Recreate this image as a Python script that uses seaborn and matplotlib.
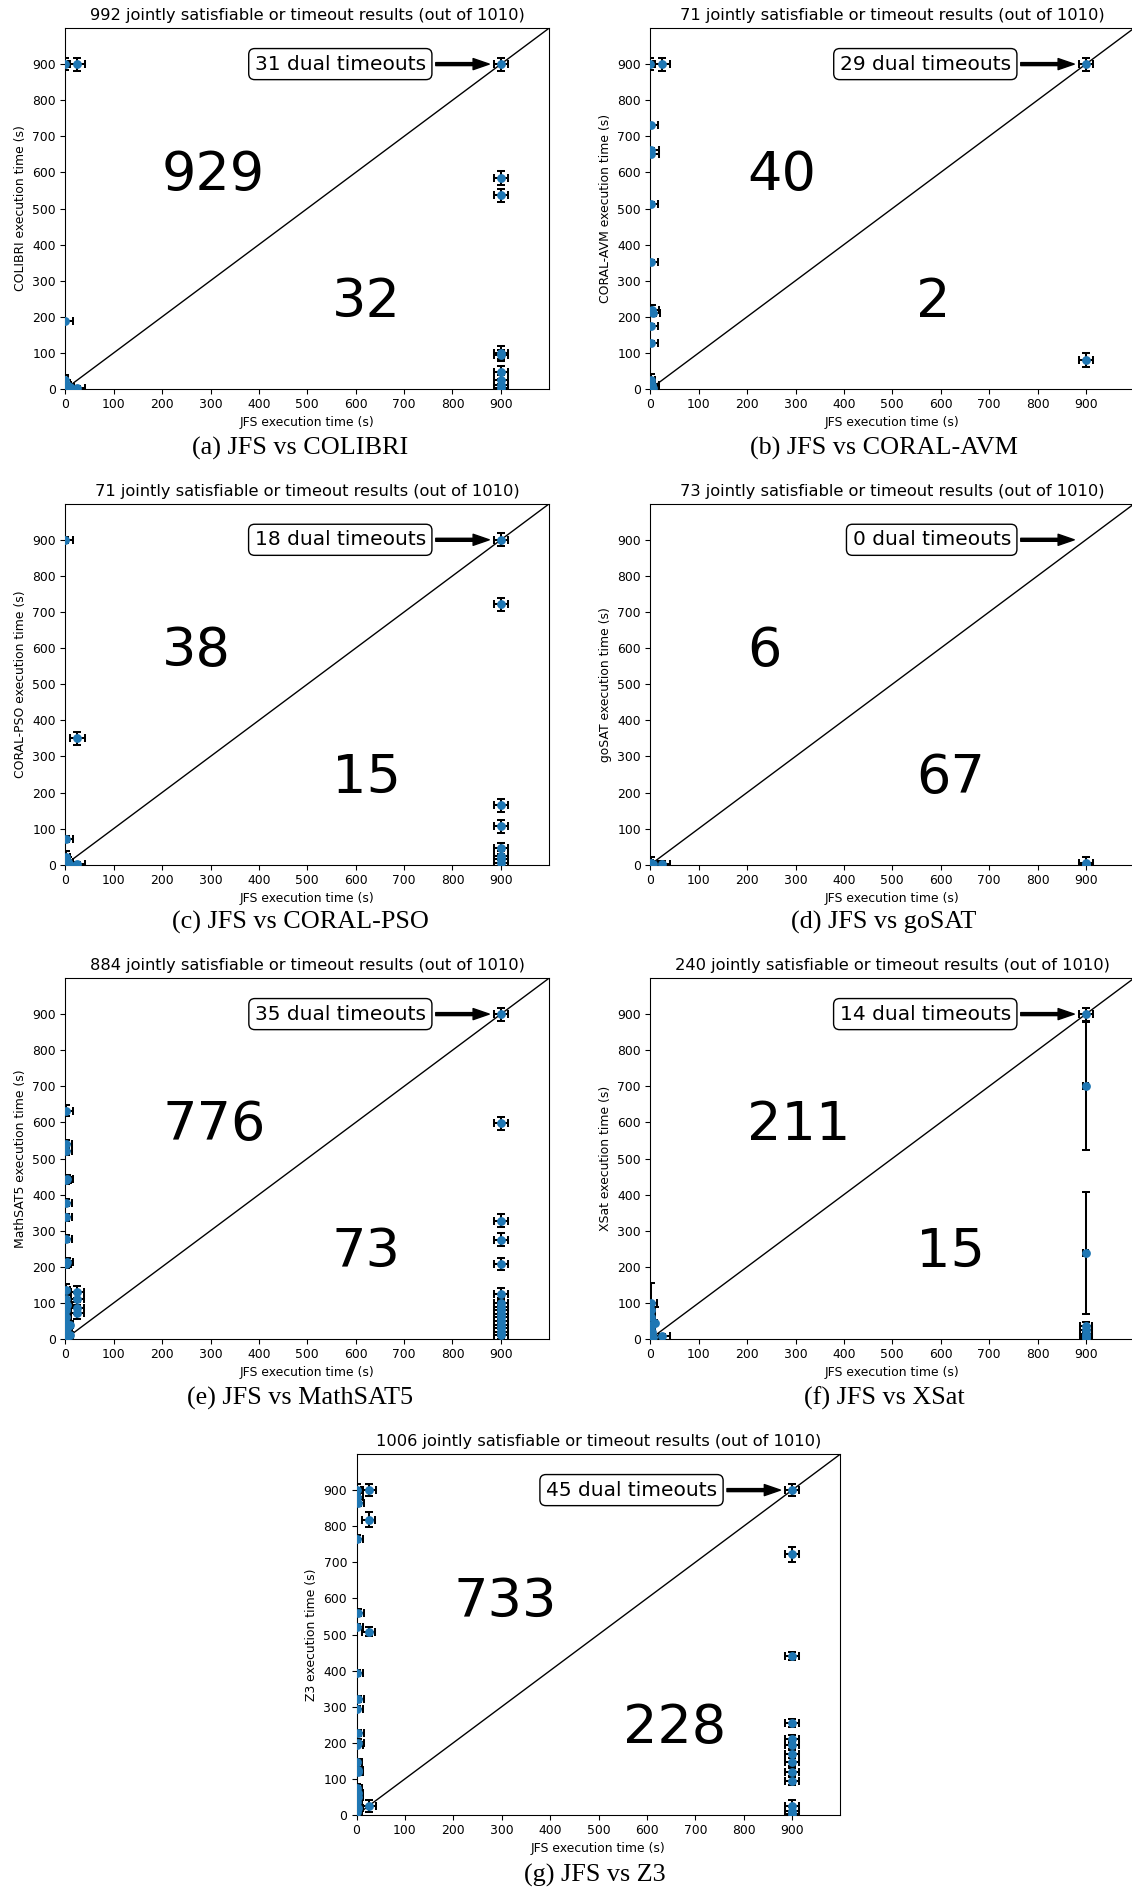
import matplotlib
matplotlib.use("Agg")
import matplotlib.pyplot as plt
import seaborn as sns
import numpy as np

# ---------------- data ----------------
TOTAL = 1010
solvers = ["COLIBRI", "CORAL-AVM", "CORAL-PSO", "goSAT", "MathSAT5", "XSat", "Z3"]
letters = ["a", "b", "c", "d", "e", "f", "g"]
jointly = [992, 71, 71, 73, 884, 240, 1006]
dual_timeouts = [31, 29, 18, 0, 35, 14, 45]
upper_counts = [929, 40, 38, 6, 776, 211, 733]
lower_counts = [32, 2, 15, 67, 73, 15, 228]
tick_values = [0, 100, 200, 300, 400, 500, 600, 700, 800, 900]

colibri_jfs = [0, 25, 0, 0, 4, 10, 25, 2, 900, 900, 900, 900, 900, 900, 900, 900, 900]
colibri_time = [900, 900, 187, 25, 12, 5, 3, 0, 900, 585, 537, 100, 93, 47, 25, 12, 3]
colibri_jfs_err = [5, 15, 15, 5, 8, 8, 15, 5, 15, 15, 15, 15, 15, 15, 15, 15, 15]
colibri_time_err = [17, 18, 5, 15, 12, 10, 5, 5, 18, 20, 18, 18, 16, 18, 15, 12, 10]

avm_jfs = [0, 25, 1, 2, 2, 1, 1, 4, 5, 1, 1, 1, 3, 6, 900, 900]
avm_time = [900, 900, 730, 662, 652, 512, 352, 218, 210, 175, 127, 25, 12, 3, 900, 80]
avm_jfs_err = [5, 15, 15, 15, 15, 15, 15, 15, 15, 15, 15, 8, 15, 10, 15, 15]
avm_time_err = [17, 18, 5, 5, 5, 5, 5, 15, 8, 5, 5, 16, 12, 10, 18, 20]

pso_jfs = [0, 25, 1, 1, 5, 25, 10, 900, 900, 900, 900, 900, 900, 900, 900]
pso_time = [900, 350, 72, 22, 8, 3, 0, 900, 722, 165, 107, 45, 25, 15, 5]
pso_jfs_err = [15, 15, 15, 8, 10, 15, 10, 15, 15, 15, 15, 15, 15, 15, 15]
pso_time_err = [8, 18, 8, 16, 12, 5, 5, 18, 18, 18, 18, 16, 12, 10, 10]

gosat_jfs = [1, 6, 25, 900, 900]
gosat_time = [5, 2, 2, 5, 0]
gosat_jfs_err = [5, 10, 15, 15, 15]
gosat_time_err = [16, 5, 8, 16, 5]

mathsat_jfs = [1, 2, 2, 3, 1, 2, 2, 2, 3, 1, 1, 2, 3, 2, 1, 2, 3, 1, 2,
               25, 25, 25, 25, 10, 10,
               900, 900, 900, 900, 900, 900, 900, 900, 900, 900, 900, 900, 900, 900, 900, 900]
mathsat_time = [632, 540, 520, 443, 440, 378, 337, 278, 213, 208, 137, 110, 95, 80, 60, 45, 30, 15, 5,
                130, 110, 85, 72, 40, 10,
                900, 597, 327, 275, 207, 125, 100, 90, 80, 70, 60, 50, 40, 30, 20, 10]
mathsat_jfs_err = [15, 12, 12, 12, 10, 12, 12, 12, 12, 10, 8, 10, 10, 10, 10, 10, 10, 10, 10,
                   14, 14, 14, 14, 5, 5,
                   15, 14, 15, 15, 15, 15, 15, 15, 15, 15, 15, 15, 15, 15, 15, 15]
mathsat_time_err = [15, 10, 10, 10, 10, 10, 10, 10, 10, 10, 15, 15, 10, 10, 10, 10, 10, 10, 10,
                    17, 17, 17, 17, 10, 10,
                    18, 17, 18, 18, 17, 17, 13, 13, 13, 13, 13, 13, 13, 13, 13, 10]

xsat_jfs = [1, 2, 2, 3, 4, 5, 10, 25, 900, 900, 900, 900, 900, 900, 900, 900]
xsat_time = [100, 80, 60, 40, 20, 5, 45, 8, 900, 700, 238, 35, 25, 15, 8, 3]
xsat_jfs_err = [12, 5, 5, 5, 5, 5, 3, 15, 15, 5, 5, 12, 12, 12, 12, 12]
xsat_time_err = [55, 10, 10, 10, 10, 5, 45, 5, 18, 177, 170, 12, 10, 10, 8, 5]

z3_jfs = [1, 2, 3, 2, 3, 2, 2, 3, 2, 3, 4, 2, 2, 3, 4, 2, 3, 4, 2, 3, 2,
          25, 25, 25, 25,
          900, 900, 900, 900, 900, 900, 900, 900, 900, 900, 900, 900, 900]
z3_time = [900, 880, 865, 765, 560, 522, 393, 322, 295, 228, 200, 195, 148, 125, 118, 75, 60, 50, 35, 20, 8,
           900, 818, 508, 25,
           900, 722, 440, 255, 210, 195, 170, 148, 118, 93, 25, 12, 3]
z3_jfs_err = [12, 12, 12, 12, 12, 12, 12, 12, 12, 12, 12, 12, 10, 10, 10, 10, 10, 10, 10, 10, 10,
              15, 14, 14, 15,
              15, 14, 14, 14, 14, 14, 14, 14, 14, 14, 14, 14, 14]
z3_time_err = [16, 10, 10, 10, 10, 8, 8, 8, 8, 8, 10, 8, 8, 8, 8, 10, 10, 10, 10, 10, 10,
               17, 20, 12, 17,
               17, 20, 12, 11, 11, 11, 11, 11, 11, 11, 16, 10, 8]

series = [
    (colibri_jfs, colibri_time, colibri_jfs_err, colibri_time_err),
    (avm_jfs, avm_time, avm_jfs_err, avm_time_err),
    (pso_jfs, pso_time, pso_jfs_err, pso_time_err),
    (gosat_jfs, gosat_time, gosat_jfs_err, gosat_time_err),
    (mathsat_jfs, mathsat_time, mathsat_jfs_err, mathsat_time_err),
    (xsat_jfs, xsat_time, xsat_jfs_err, xsat_time_err),
    (z3_jfs, z3_time, z3_jfs_err, z3_time_err),
]
diag = [0, 1000]

# ---------------- layout ----------------
W, H, DPI = 1132, 1889, 100
fig = plt.figure(figsize=(W / DPI, H / DPI), dpi=DPI)
fig.patch.set_facecolor("white")

AW, AH = 484, 361
left_x, right_x, mid_x = 65.3, 650.3, 356.5
row_tops = [28, 503.7, 978, 1454]
axes_px = [(left_x, row_tops[0]), (right_x, row_tops[0]),
           (left_x, row_tops[1]), (right_x, row_tops[1]),
           (left_x, row_tops[2]), (right_x, row_tops[2]),
           (mid_x, row_tops[3])]
caption_x = [300, 884, 300, 884, 300, 884, 595]
caption_y = [448, 448, 922.5, 922.5, 1398, 1398, 1875]

TICK_FS = 8.9
TITLE_FS = 11.7
BOX_FS = 14.5
BIG_FS = 39
CAP_FS = 18.8
BLUE = "#1f77b4"

for i in range(7):
    lx, ty = axes_px[i]
    ax = fig.add_axes([lx / W, 1 - (ty + AH) / H, AW / W, AH / H])
    xs, ys, xe, ye = series[i]

    sns.lineplot(x=diag, y=diag, ax=ax, color="black", linewidth=1.0, zorder=1)
    ax.errorbar(xs, ys, xerr=xe, yerr=ye, fmt="none", ecolor="black",
                elinewidth=1.45, capsize=2.6, capthick=1.45, zorder=2)
    sns.scatterplot(x=xs, y=ys, ax=ax, color=BLUE, s=40, linewidth=0,
                    zorder=3, legend=False)

    ax.set_xlim(0, 1000)
    ax.set_ylim(0, 1000)
    ax.set_xticks(tick_values)
    ax.set_yticks(tick_values)
    ax.tick_params(labelsize=TICK_FS, length=3.4, width=0.78, pad=3.4)
    for sp in ax.spines.values():
        sp.set_linewidth(0.78)
    ax.set_xlabel("JFS execution time (s)", fontsize=TICK_FS, labelpad=3.4)
    ax.set_ylabel(f"{solvers[i]} execution time (s)", fontsize=TICK_FS, labelpad=3.9)
    ax.set_title(f"{jointly[i]} jointly satisfiable or timeout results (out of {TOTAL})",
                 fontsize=TITLE_FS, pad=5.9)

    ax.text(200, 550, str(upper_counts[i]), fontsize=BIG_FS, ha="left", va="baseline")
    ax.text(550, 200, str(lower_counts[i]), fontsize=BIG_FS, ha="left", va="baseline")

    ax.annotate(f"{dual_timeouts[i]} dual timeouts", xy=(900, 900), xytext=(745, 900),
                ha="right", va="center", fontsize=BOX_FS,
                bbox=dict(boxstyle="round,pad=0.3", fc="white", ec="black", lw=1.0),
                arrowprops=dict(arrowstyle="simple,head_length=0.8,head_width=0.55,tail_width=0.15",
                                fc="black", ec="black", shrinkA=2.4, shrinkB=8.4))

    fig.text(caption_x[i] / W, 1 - caption_y[i] / H,
             f"({letters[i]}) JFS vs {solvers[i]}",
             fontsize=CAP_FS, family=["Liberation Serif", "DejaVu Serif"],
             ha="center", va="center")

fig.savefig("out.png", dpi=DPI, facecolor="white")
